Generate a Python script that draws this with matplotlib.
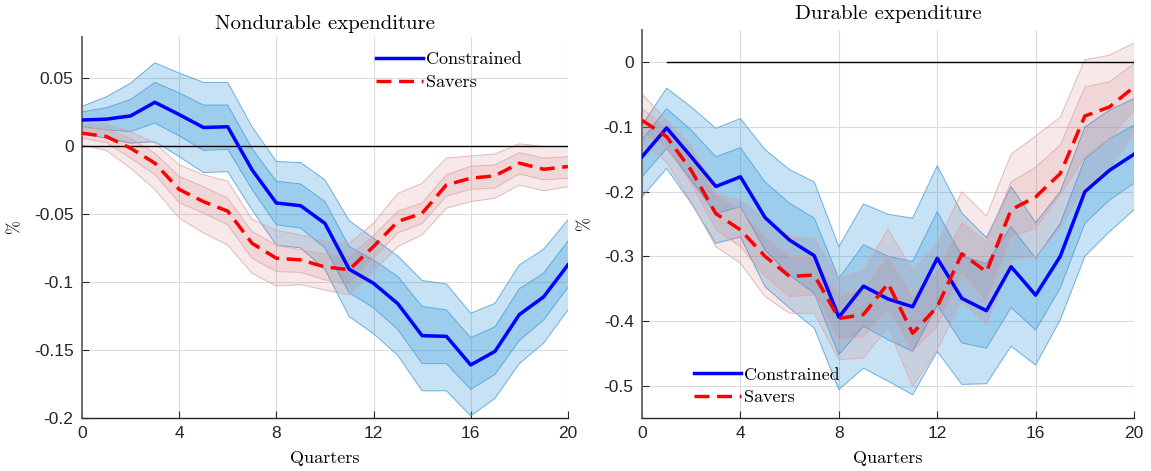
import matplotlib
matplotlib.use("Agg")
import matplotlib.pyplot as plt
import numpy as np

quarters = np.arange(21)

# Nondurable expenditure: median response and 68% / 90% bands
nd_con = [0.019, 0.0196, 0.022, 0.032, 0.023, 0.0135, 0.014, -0.0176, -0.042, -0.044, -0.057,
          -0.0907, -0.101, -0.116, -0.1395, -0.140, -0.161, -0.151, -0.124, -0.111, -0.0875]
nd_con_in_hi = [0.025, 0.028, 0.034, 0.0466, 0.039, 0.030, 0.030, -0.002, -0.026, -0.028, -0.041,
                -0.074, -0.084, -0.096, -0.118, -0.1206, -0.141, -0.133, -0.105, -0.0936, -0.070]
nd_con_in_lo = [0.014, 0.0118, 0.0105, 0.0167, 0.0074, -0.0034, -0.0025, -0.032, -0.058, -0.0605, -0.075,
                -0.108, -0.119, -0.135, -0.160, -0.160, -0.179, -0.168, -0.143, -0.128, -0.104]
nd_con_out_hi = [0.029, 0.036, 0.046, 0.061, 0.0535, 0.0466, 0.0466, 0.014, -0.0115, -0.0123, -0.025,
                 -0.055, -0.068, -0.081, -0.099, -0.1015, -0.123, -0.1157, -0.0875, -0.076, -0.0544]
nd_con_out_lo = [0.0093, 0.0056, 0.002, 0.003, -0.0079, -0.0196, -0.019, -0.047, -0.073, -0.075, -0.0907,
                 -0.1255, -0.138, -0.154, -0.180, -0.180, -0.1985, -0.1855, -0.160, -0.145, -0.1206]

nd_sav = [0.0093, 0.0069, -0.0017, -0.0127, -0.032, -0.041, -0.048, -0.0716, -0.0826, -0.0838, -0.089,
          -0.091, -0.074, -0.0556, -0.0495, -0.0287, -0.0238, -0.022, -0.0127, -0.0172, -0.0152]
nd_sav_in_hi = [0.0135, 0.012, 0.0056, -0.0054, -0.0225, -0.030, -0.0385, -0.063, -0.073, -0.0765, -0.0794,
                -0.081, -0.066, -0.048, -0.042, -0.0213, -0.015, -0.014, -0.005, -0.009, -0.0079]
nd_sav_in_lo = [0.0056, 0.0025, -0.009, -0.021, -0.0417, -0.0495, -0.058, -0.0826, -0.0924, -0.093, -0.0985,
                -0.102, -0.0826, -0.064, -0.057, -0.037, -0.032, -0.031, -0.0206, -0.025, -0.0238]
nd_sav_out_hi = [0.016, 0.016, 0.0105, 0.002, -0.014, -0.0213, -0.026, -0.054, -0.062, -0.0654, -0.070,
                 -0.0716, -0.057, -0.035, -0.0275, -0.009, -0.0074, -0.006, 0.0015, -0.0005, -0.0005]
nd_sav_out_lo = [0.0007, -0.0034, -0.0164, -0.032, -0.053, -0.064, -0.073, -0.0936, -0.103, -0.102, -0.106,
                 -0.1096, -0.0924, -0.074, -0.0654, -0.0458, -0.041, -0.0385, -0.0287, -0.033, -0.030]

# Durable expenditure
d_con = [-0.146, -0.1014, -0.146, -0.192, -0.177, -0.240, -0.275, -0.299, -0.394, -0.346, -0.366,
         -0.378, -0.303, -0.365, -0.384, -0.316, -0.360, -0.300, -0.200, -0.167, -0.142]
d_con_in_hi = [-0.120, -0.0715, -0.105, -0.146, -0.132, -0.185, -0.218, -0.241, -0.334, -0.282, -0.300,
               -0.308, -0.231, -0.300, -0.311, -0.254, -0.303, -0.249, -0.149, -0.118, -0.097]
d_con_in_lo = [-0.177, -0.133, -0.182, -0.234, -0.223, -0.290, -0.329, -0.357, -0.452, -0.408, -0.429,
               -0.447, -0.375, -0.434, -0.442, -0.379, -0.414, -0.349, -0.249, -0.213, -0.187]
d_con_out_hi = [-0.097, -0.040, -0.069, -0.102, -0.087, -0.135, -0.166, -0.185, -0.285, -0.219, -0.235,
                -0.241, -0.160, -0.233, -0.271, -0.192, -0.248, -0.200, -0.100, -0.074, -0.056]
d_con_out_lo = [-0.208, -0.164, -0.218, -0.280, -0.270, -0.347, -0.380, -0.411, -0.506, -0.473, -0.493,
                -0.514, -0.447, -0.498, -0.497, -0.439, -0.468, -0.398, -0.300, -0.262, -0.228]

d_sav = [-0.0895, -0.115, -0.167, -0.234, -0.259, -0.300, -0.331, -0.329, -0.396, -0.390, -0.342,
         -0.419, -0.378, -0.296, -0.324, -0.228, -0.208, -0.172, -0.083, -0.069, -0.038]
d_sav_in_hi = [-0.0715, -0.100, -0.141, -0.205, -0.228, -0.270, -0.300, -0.300, -0.362, -0.349, -0.300,
               -0.362, -0.321, -0.248, -0.277, -0.185, -0.162, -0.128, -0.038, -0.030, -0.002]
d_sav_in_lo = [-0.110, -0.131, -0.187, -0.259, -0.285, -0.331, -0.362, -0.360, -0.429, -0.424, -0.383,
               -0.447, -0.408, -0.326, -0.370, -0.270, -0.257, -0.205, -0.146, -0.118, -0.074]
d_sav_out_hi = [-0.049, -0.0895, -0.128, -0.203, -0.213, -0.241, -0.269, -0.272, -0.334, -0.321, -0.258,
                -0.321, -0.280, -0.200, -0.238, -0.142, -0.114, -0.085, 0.004, 0.011, 0.030]
d_sav_out_lo = [-0.125, -0.154, -0.216, -0.285, -0.311, -0.362, -0.388, -0.388, -0.460, -0.457, -0.411,
                -0.501, -0.444, -0.370, -0.406, -0.306, -0.300, -0.257, -0.192, -0.167, -0.110]

BLUE_FILL = (0.2, 0.6, 0.86)
BLUE_EDGE = (0.3, 0.62, 0.86)
RED_FILL = (0.78, 0.4, 0.4)
RED_EDGE = (0.88, 0.66, 0.66)
DASH = (0, (4.3, 2.2))

serif = "cmr10"
plt.rcParams["font.family"] = ["Liberation Sans", "DejaVu Sans"]


def bands(ax, x, out_lo, out_hi, in_lo, in_hi, fill, edge, alpha):
    ax.fill_between(x, out_lo, out_hi, facecolor=fill, alpha=alpha, edgecolor="none", zorder=2)
    ax.fill_between(x, in_lo, in_hi, facecolor=fill, alpha=alpha, edgecolor="none", zorder=2)
    for s in (out_lo, out_hi, in_lo, in_hi):
        ax.plot(x, s, color=edge, lw=0.7, alpha=0.8, zorder=2)


def style(ax, ylim, yticks, yticklabels):
    ax.set_xlim(0, 20)
    ax.set_ylim(*ylim)
    ax.set_xticks(np.arange(0, 21, 4))
    ax.set_yticks(yticks)
    ax.set_yticklabels(yticklabels)
    ax.grid(True, color="#dcdcdc", lw=0.8, zorder=0)
    ax.set_axisbelow(True)
    for side in ("top", "right"):
        ax.spines[side].set_visible(False)
    ax.spines["left"].set_color("#6e6e6e")
    ax.spines["left"].set_linewidth(1.4)
    ax.spines["bottom"].set_color("#262626")
    ax.spines["bottom"].set_linewidth(1.0)
    ax.tick_params(direction="in", length=5, width=0.8, color="#262626",
                   labelsize=12.5, labelcolor="#262626", pad=6)
    ax.set_xlabel("Quarters", fontfamily=serif, fontsize=13, labelpad=7)
    ax.set_ylabel("%", fontfamily=serif, fontsize=12, labelpad=8)


def legend(ax, **kw):
    ax.legend(frameon=False, prop={"family": serif, "size": 13}, handlelength=2.6,
              handletextpad=0.15, labelspacing=0.4, borderaxespad=0.3, **kw)


fig = plt.figure(figsize=(11.51, 4.71), dpi=100)
ax1 = fig.add_axes([0.0712, 0.1125, 0.4222, 0.809])
ax2 = fig.add_axes([0.5578, 0.1125, 0.4275, 0.8238])

# left panel
bands(ax1, quarters, nd_con_out_lo, nd_con_out_hi, nd_con_in_lo, nd_con_in_hi, BLUE_FILL, BLUE_EDGE, 0.28)
bands(ax1, quarters, nd_sav_out_lo, nd_sav_out_hi, nd_sav_in_lo, nd_sav_in_hi, RED_FILL, RED_EDGE, 0.14)
ax1.axhline(0, color="black", lw=1.0, zorder=3)
ax1.plot(quarters, nd_con, color="#0000ff", lw=2.5, label="Constrained", zorder=4)
ax1.plot(quarters, nd_sav, color="#ff0000", lw=2.5, ls=DASH, label="Savers", zorder=4)
style(ax1, (-0.2, 0.08), [-0.2, -0.15, -0.1, -0.05, 0, 0.05],
      ["-0.2", "-0.15", "-0.1", "-0.05", "0", "0.05"])
ax1.set_title("Nondurable expenditure", fontfamily=serif, fontsize=15, pad=6)
legend(ax1, loc="upper right", bbox_to_anchor=(0.93, 0.995))

# right panel
bands(ax2, quarters, d_con_out_lo, d_con_out_hi, d_con_in_lo, d_con_in_hi, BLUE_FILL, BLUE_EDGE, 0.28)
bands(ax2, quarters, d_sav_out_lo, d_sav_out_hi, d_sav_in_lo, d_sav_in_hi, RED_FILL, RED_EDGE, 0.14)
ax2.plot([1, 20], [0, 0], color="black", lw=1.0, zorder=3)
ax2.plot(quarters, d_con, color="#0000ff", lw=2.5, label="Constrained", zorder=4)
ax2.plot(quarters, d_sav, color="#ff0000", lw=2.5, ls=DASH, label="Savers", zorder=4)
style(ax2, (-0.55, 0.05), [-0.5, -0.4, -0.3, -0.2, -0.1, 0],
      ["-0.5", "-0.4", "-0.3", "-0.2", "-0.1", "0"])
ax2.set_title("Durable expenditure", fontfamily=serif, fontsize=15, pad=8)
legend(ax2, loc="lower left", bbox_to_anchor=(0.08, 0.0))

fig.savefig("out.png", dpi=100)
